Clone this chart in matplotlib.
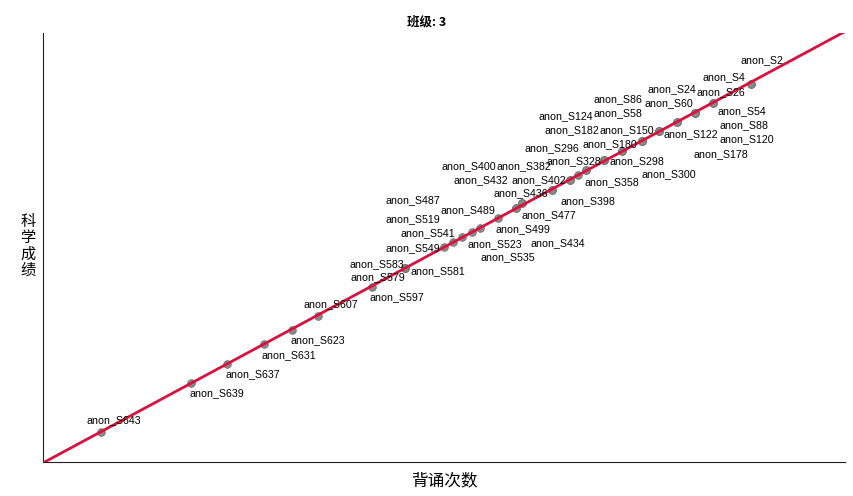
import numpy as np
import matplotlib.pyplot as plt

plt.rcParams['font.family'] = ['Noto Sans CJK SC', 'DejaVu Sans']

# student labels, recite count (x) and science score (y)
names = ['anon_S2', 'anon_S4', 'anon_S26', 'anon_S54', 'anon_S24', 'anon_S60', 'anon_S88',
         'anon_S122', 'anon_S86', 'anon_S150', 'anon_S58', 'anon_S120', 'anon_S180', 'anon_S124',
         'anon_S178', 'anon_S182', 'anon_S296', 'anon_S328', 'anon_S298', 'anon_S300', 'anon_S382',
         'anon_S358', 'anon_S402', 'anon_S432', 'anon_S400', 'anon_S436', 'anon_S398', 'anon_S477',
         'anon_S434', 'anon_S489', 'anon_S487', 'anon_S499', 'anon_S519', 'anon_S541', 'anon_S523',
         'anon_S535', 'anon_S549', 'anon_S583', 'anon_S581', 'anon_S579', 'anon_S597', 'anon_S607',
         'anon_S623', 'anon_S631', 'anon_S637', 'anon_S639', 'anon_S643']
recite = [35.3, 35.3, 33.4, 33.4, 32.5, 32.5, 32.5,
          31.6, 31.6, 30.7, 30.7, 30.7, 29.9, 29.9,
          29.9, 28.9, 28.9, 28.0, 28.0, 28.0, 27.1,
          27.1, 26.7, 26.3, 26.3, 25.4, 25.4, 23.9,
          23.9, 23.6, 23.6, 22.7, 21.8, 21.4, 20.9,
          20.45, 20.0, 18.05, 18.05, 18.05, 16.4, 13.7,
          12.4, 11.0, 9.2, 7.4, 2.9]
score = [88.1, 88.1, 83.7, 83.7, 81.4, 81.4, 81.4,
         79.3, 79.3, 77.2, 77.2, 77.2, 74.8, 74.8,
         74.8, 72.5, 72.5, 70.4, 70.4, 70.4, 68.1,
         68.1, 66.9, 65.7, 65.7, 63.4, 63.4, 60.4,
         60.4, 59.2, 59.2, 56.9, 54.5, 53.6, 52.4,
         51.3, 50.1, 45.2, 45.2, 45.2, 40.8, 34.0,
         30.8, 27.5, 22.8, 18.4, 7.0]

# label offsets from each point, in pixels (dx right, dy down)
label_dx = [-10, -48, -16, 5, -47, -50, 25,
            -13, -83, -59, -65, 61, -60, -104,
            51, -78, -98, -58, 5, 37, -90,
            -2, -67, -117, -129, -59, 8, -1,
            8, -76, -131, -3, -95, -72, 5,
            27, -59, -55, 6, -54, -2, -14,
            -1, -2, -2, -2, -15]
label_dy = [-24, -7, -11, 8, -24, -10, 12,
            12, -23, -1, -18, 8, 3, -25,
            13, -21, -3, 1, 1, 14, -4,
            12, 5, 0, -14, 3, 11, 12,
            40, 2, -8, 11, -9, 1, 7,
            15, 1, -4, 3, 9, 10, -12,
            10, 11, 10, 10, -12]

fig = plt.figure(figsize=(8.54, 4.96), dpi=100)
ax = fig.add_axes([43 / 854, 34 / 496, 802 / 854, 429 / 496])

ax.scatter(recite, score, s=30, color='#8a8a8a', edgecolors='#707070', linewidths=0.6, zorder=3)

# linear fit line across the whole x range
k, b = np.polyfit(recite, score, 1)
xs = np.array([0, 40])
ax.plot(xs, k * xs + b, color='#d8113e', lw=2.0, zorder=4)

for n, x, y, dx, dy in zip(names, recite, score, label_dx, label_dy):
    ax.annotate(n, (x, y), xytext=(dx, -dy), textcoords='offset pixels',
                ha='left', va='center', fontsize=7.7, family='Liberation Sans', zorder=5)

ax.set_xlim(0, 40)
ax.set_ylim(0, 100)
ax.set_xticks([])
ax.set_yticks([])
for side in ['top', 'right']:
    ax.spines[side].set_visible(False)
for side in ['left', 'bottom']:
    ax.spines[side].set_color('#222222')
    ax.spines[side].set_linewidth(0.8)

fig.text(427 / 854, 1 - 22 / 496, '班级: 3', ha='center', va='center', fontsize=9, fontweight='bold')
fig.text(444 / 854, 1 - 481 / 496, '背诵次数', ha='center', va='center', fontsize=12)
fig.text(28 / 854, 1 - 246 / 496, '科\n学\n成\n绩', ha='center', va='center', fontsize=11, linespacing=0.95)

fig.savefig('out.png', dpi=100)
